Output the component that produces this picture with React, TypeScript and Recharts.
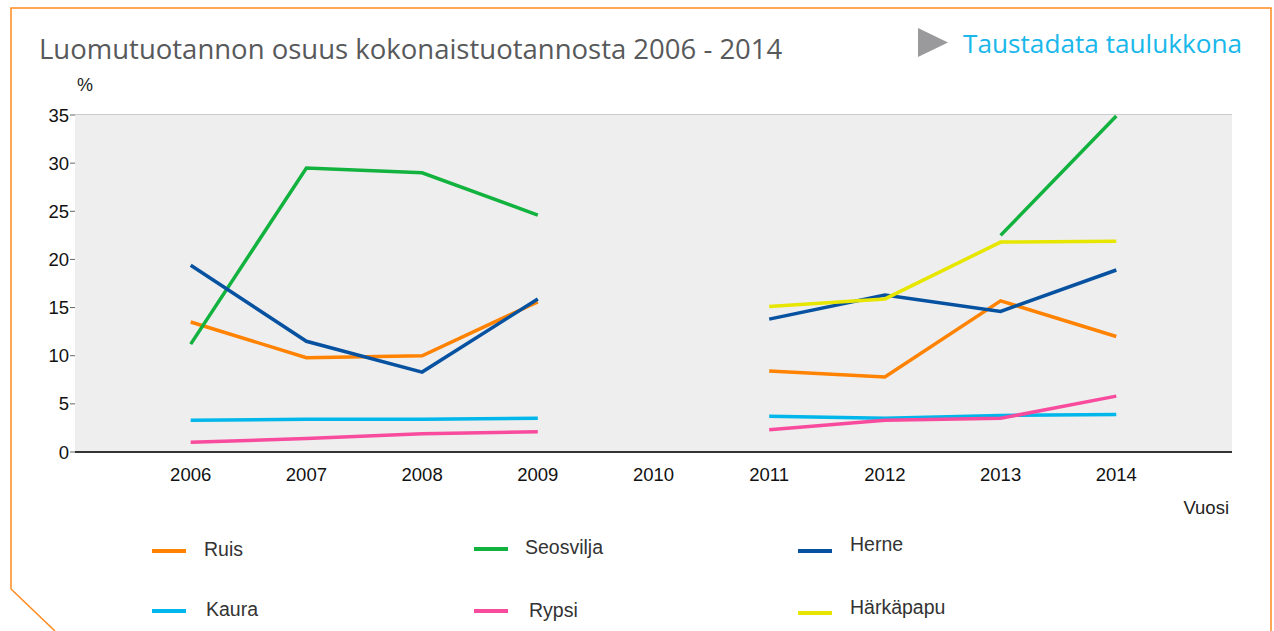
import { LineChart, Line, XAxis, YAxis, CartesianGrid, ReferenceArea } from 'recharts';

const years = [2006, 2007, 2008, 2009, 2010, 2011, 2012, 2013, 2014];
const ruis = [13.5, 9.8, 10.0, 15.6, null, 8.4, 7.8, 15.7, 12.0];
const seosvilja = [11.2, 29.5, 29.0, 24.6, null, null, null, 22.5, 34.9];
const herne = [19.4, 11.5, 8.3, 15.9, null, 13.8, 16.3, 14.6, 18.9];
const kaura = [3.3, 3.4, 3.4, 3.5, null, 3.7, 3.5, 3.8, 3.9];
const rypsi = [1.0, 1.4, 1.9, 2.1, null, 2.3, 3.3, 3.5, 5.8];
const harkapapu = [null, null, null, null, null, 15.1, 15.9, 21.8, 21.9];
const yTicks = [0, 5, 10, 15, 20, 25, 30, 35];

const series = [
  { key: 'Ruis', values: ruis, color: '#ff8200' },
  { key: 'Seosvilja', values: seosvilja, color: '#12b23e' },
  { key: 'Herne', values: herne, color: '#0652a0' },
  { key: 'Kaura', values: kaura, color: '#00b6ea' },
  { key: 'Rypsi', values: rypsi, color: '#f84b9e' },
  { key: 'Härkäpapu', values: harkapapu, color: '#e6e600' },
];

const data = years.map((year, i) => {
  const row: Record<string, number | null> = { year };
  series.forEach((s) => {
    row[s.key] = s.values[i];
  });
  return row;
});

// legend slots, 3 columns x 2 rows
const legendPos = [
  { left: 152, top: 538, gap: 18, lineDy: 1 },
  { left: 474, top: 536, gap: 17, lineDy: 1 },
  { left: 798, top: 533, gap: 18, lineDy: 6 },
  { left: 152, top: 598, gap: 20, lineDy: 1 },
  { left: 474, top: 599, gap: 21, lineDy: 0 },
  { left: 798, top: 596, gap: 18, lineDy: 5 },
];

const font = '"Liberation Sans", Arial, sans-serif';

export default function App() {
  return (
    <div style={{ position: 'absolute', left: 0, top: 0, width: 1274, height: 631, background: '#fff', overflow: 'hidden' }}>
      <svg width={1274} height={631} style={{ position: 'absolute', left: 0, top: 0 }}>
        <polyline points="11,589 11,8 1271,8 1271,631" fill="none" stroke="#ff8a1c" strokeWidth={1.5} />
        <polyline points="11,589 55,631" fill="none" stroke="#ff8a1c" strokeWidth={1.5} />
        <polygon points="918,28 948,42.5 918,57" fill="#9a9a9c" />
      </svg>
      <div
        style={{
          position: 'absolute',
          left: 39,
          top: 30,
          fontFamily: '"Open Sans", sans-serif',
          fontSize: 27.5,
          color: '#58595b',
          whiteSpace: 'nowrap',
        }}
      >
        Luomutuotannon osuus kokonaistuotannosta 2006 - 2014
      </div>
      <div
        style={{
          position: 'absolute',
          left: 963,
          top: 25,
          fontFamily: '"Open Sans", sans-serif',
          fontSize: 26.2,
          color: '#1ab7ea',
          whiteSpace: 'nowrap',
        }}
      >
        Taustadata taulukkona
      </div>
      <div style={{ position: 'absolute', left: 0, top: 0 }}>
        <LineChart width={1274} height={631} data={data} margin={{ top: 115, right: 42, bottom: 149, left: 0 }}>
          <ReferenceArea x1={2005} x2={2015} y1={0} y2={35} fill="#eeeeee" fillOpacity={1} stroke="none" />
          <CartesianGrid vertical={false} stroke="#b9b9b9" strokeWidth={1.5} />
          <XAxis
            dataKey="year"
            type="number"
            domain={[2005, 2015]}
            ticks={years}
            tickLine={false}
            axisLine={{ stroke: '#333', strokeWidth: 2 }}
            tick={{ fill: '#111', fontSize: 18.5, fontFamily: font }}
            tickMargin={10}
            height={30}
            allowDataOverflow
          />
          <YAxis
            domain={[0, 35]}
            ticks={yTicks}
            width={75}
            axisLine={false}
            tickSize={5}
            tickMargin={1}
            tickLine={{ stroke: '#666' }}
            tick={{ fill: '#111', fontSize: 18.5, fontFamily: font }}
          />
          {series.map((s) => (
            <Line
              key={s.key}
              dataKey={s.key}
              stroke={s.color}
              strokeWidth={3.5}
              dot={false}
              activeDot={false}
              connectNulls={false}
              isAnimationActive={false}
            />
          ))}
          <text x={77} y={91} fontSize={18} fontFamily={font} fill="#222">%</text>
          <text x={1229} y={514} fontSize={18.5} textAnchor="end" fontFamily={font} fill="#222">Vuosi</text>
        </LineChart>
      </div>
      {series.map((s, i) => (
        <div
          key={s.key}
          style={{
            position: 'absolute',
            left: legendPos[i].left,
            top: legendPos[i].top,
            display: 'flex',
            alignItems: 'center',
            fontFamily: font,
            fontSize: 19.5,
            color: '#333',
            whiteSpace: 'nowrap',
          }}
        >
          <span
            style={{
              display: 'inline-block',
              width: 34,
              height: 4,
              background: s.color,
              marginRight: legendPos[i].gap,
              position: 'relative',
              top: legendPos[i].lineDy,
            }}
          />
          <span>{s.key}</span>
        </div>
      ))}
    </div>
  );
}
